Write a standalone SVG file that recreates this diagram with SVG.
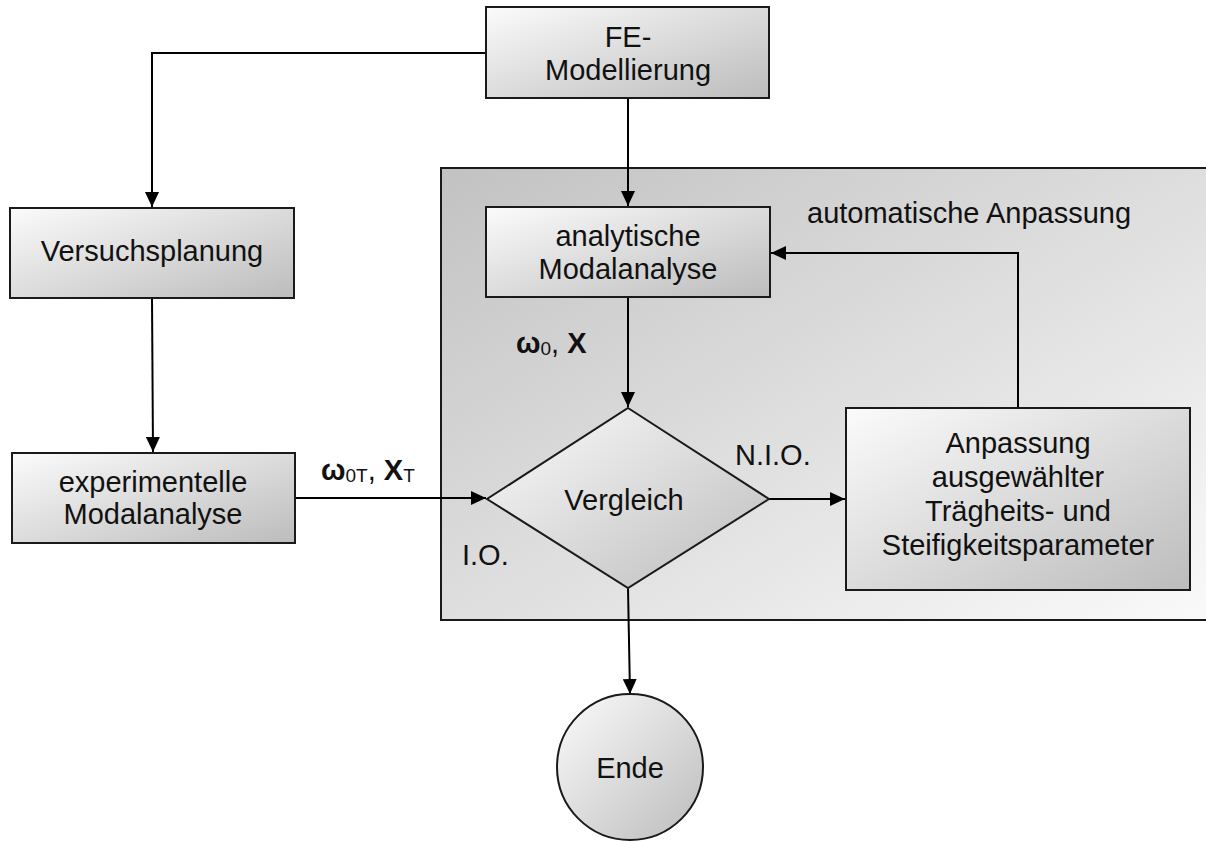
<svg xmlns="http://www.w3.org/2000/svg" width="1206" height="841" viewBox="0 0 1206 841">
<defs>
<linearGradient id="gBox" x1="0" y1="0" x2="1" y2="1">
<stop offset="0" stop-color="#fbfbfb"/>
<stop offset="1" stop-color="#bcbcbc"/>
</linearGradient>
<linearGradient id="gCont" x1="0" y1="0" x2="1" y2="1">
<stop offset="0" stop-color="#c2c2c2"/>
<stop offset="1" stop-color="#fafafa"/>
</linearGradient>
<marker id="arr" markerUnits="userSpaceOnUse" markerWidth="15" markerHeight="14" refX="15" refY="7" orient="auto">
<path d="M0,0 L15,7 L0,14 z" fill="#000"/>
</marker>
<style>
.box{fill:url(#gBox);stroke:#1a1a1a;stroke-width:2}
.t{font-family:"Liberation Sans",Arial,sans-serif;font-size:29px;fill:#111;text-anchor:middle}
.l{font-family:"Liberation Sans",Arial,sans-serif;font-size:29px;fill:#111}
.b{font-weight:bold}
.n{font-weight:normal}
.s{font-size:19px;font-weight:normal}
.c{fill:none;stroke:#000;stroke-width:2;marker-end:url(#arr)}
</style>
</defs>
<rect width="1206" height="841" fill="#fff"/>
<g id="container">
<rect x="441" y="168" width="775" height="452" fill="url(#gCont)" stroke="#1a1a1a" stroke-width="2"/>
<text class="l" x="807" y="223">automatische Anpassung</text>
</g>
<g id="connectors">
<path class="c" d="M486,53 H152 V207"/>
<path class="c" d="M628,98 V206"/>
<path class="c" d="M152,298 L153,452"/>
<path class="c" d="M628,297 V407"/>
<path class="c" d="M295,498 H486"/>
<path class="c" d="M769,499 H845"/>
<path class="c" d="M1018,408 V253 H771"/>
<path class="c" d="M628,588 L630,694"/>
</g>
<g id="fe">
<rect class="box" x="486" y="7" width="283" height="91"/>
<text class="t" x="628" y="47">FE-</text>
<text class="t" x="628" y="80">Modellierung</text>
</g>
<g id="versuchsplanung">
<rect class="box" x="10" y="208" width="284" height="90"/>
<text class="t" x="152" y="261">Versuchsplanung</text>
</g>
<g id="experimentelle">
<rect class="box" x="12" y="453" width="283" height="90"/>
<text class="t" x="153" y="492">experimentelle</text>
<text class="t" x="153" y="524">Modalanalyse</text>
</g>
<g id="analytische">
<rect class="box" x="486" y="207" width="284" height="90"/>
<text class="t" x="628" y="246">analytische</text>
<text class="t" x="628" y="279">Modalanalyse</text>
</g>
<g id="vergleich">
<polygon class="box" points="628,408 769,499 628,588 487,499"/>
<text class="t" x="624" y="510">Vergleich</text>
</g>
<g id="anpassung">
<rect class="box" x="846" y="408" width="344" height="182"/>
<text class="t" x="1018" y="453">Anpassung</text>
<text class="t" x="1018" y="487">ausgewählter</text>
<text class="t" x="1018" y="521">Trägheits- und</text>
<text class="t" x="1018" y="555">Steifigkeitsparameter</text>
</g>
<g id="ende">
<circle class="box" cx="630" cy="767" r="73"/>
<text class="t" x="630" y="778">Ende</text>
</g>
<g id="labels">
<text class="l b" x="516" y="353">ω<tspan class="s" dy="2">0</tspan><tspan class="n" dy="-2">, </tspan><tspan>X</tspan></text>
<text class="l b" x="321" y="480">ω<tspan class="s" dy="2">0T</tspan><tspan class="n" dy="-2">, </tspan><tspan>X</tspan><tspan class="s" dy="2">T</tspan></text>
<text class="l" x="462" y="565">I.O.</text>
<text class="l" x="735" y="465">N.I.O.</text>
</g>
</svg>
